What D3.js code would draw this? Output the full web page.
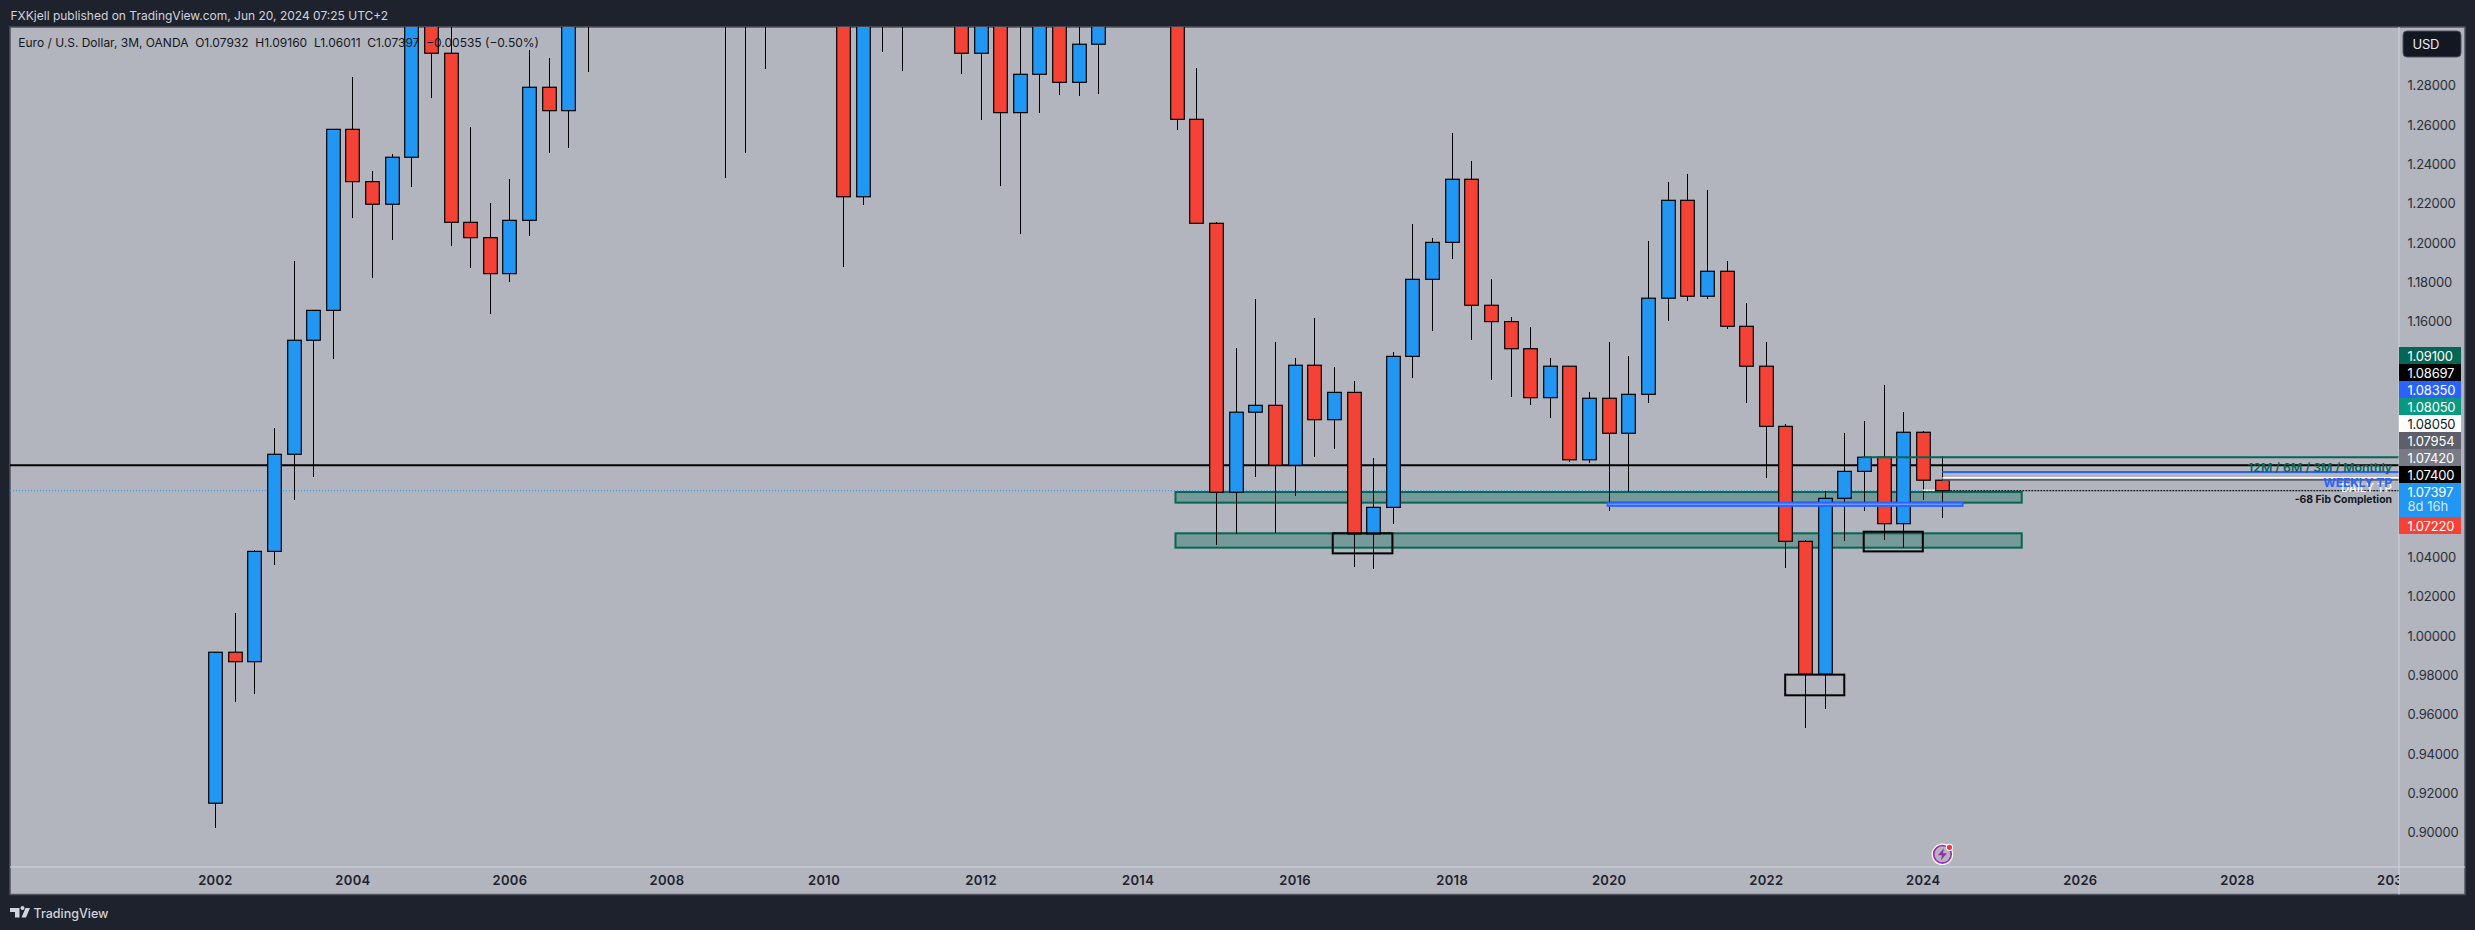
<!DOCTYPE html>
<html>
<head>
<meta charset="utf-8">
<script src="https://cdn.jsdelivr.net/npm/d3@7"></script>
<style>
html, body { margin: 0; padding: 0; background: #1e222d; overflow: hidden; }
text { font-family: Inter, "Noto Sans", sans-serif; }
</style>
</head>
<body>
<svg id="chart" width="2475" height="930"></svg>
<script>
// quarterly bars, Q2 2002 -> Q2 2024
var opens = [0.9150,0.9918,0.9870,1.0431,1.0925,1.1505,1.1657,1.2578,1.2312,1.2197,1.2436,1.3555,1.2965,1.2105,1.2027,1.1844,1.2115,1.2792,1.2673,1.3200,1.3355,1.3540,1.4240,1.4590,1.5790,1.5760,1.4090,1.3970,1.3250,1.4030,1.4640,1.4330,1.3510,1.2235,1.3635,1.3380,1.4158,1.4500,1.3390,1.2965,1.3340,1.2663,1.2858,1.3190,1.2817,1.3011,1.3525,1.3745,1.3770,1.3690,1.2629,1.2100,1.0732,1.1139,1.1174,1.0869,1.1378,1.1101,1.1240,1.0520,1.0655,1.1423,1.1815,1.2003,1.2324,1.1683,1.1600,1.1462,1.1213,1.1373,1.0897,1.1210,1.1032,1.1230,1.1719,1.2217,1.1729,1.1856,1.1576,1.1373,1.1067,1.0482,0.9806,1.0701,1.0838,1.0910,1.0572,1.1037,1.07932];
var highs = [0.9918,1.0118,1.0438,1.1057,1.1908,1.1660,1.2580,1.2844,1.2366,1.2453,1.3668,1.3480,1.3120,1.2590,1.2203,1.2325,1.2982,1.2941,1.3367,1.3370,1.3680,1.4280,1.4970,1.5910,1.6020,1.6040,1.4720,1.4000,1.4340,1.4840,1.5140,1.4580,1.3690,1.3787,1.4282,1.4248,1.4940,1.4700,1.4247,1.3486,1.3380,1.3172,1.3308,1.3711,1.3415,1.3569,1.3893,1.3967,1.3993,1.3700,1.2889,1.2107,1.1466,1.1715,1.1496,1.1413,1.1618,1.1369,1.1298,1.0906,1.1446,1.2096,1.2025,1.2559,1.2417,1.1815,1.1623,1.1572,1.1413,1.1376,1.1242,1.1496,1.1425,1.2010,1.2310,1.2351,1.2269,1.1908,1.1695,1.1496,1.1079,1.0490,1.0738,1.1033,1.1094,1.1277,1.1140,1.1044,1.09160];
var lows = [0.9024,0.9665,0.9706,1.0362,1.0692,1.0811,1.1410,1.2127,1.1823,1.2015,1.2285,1.2737,1.1985,1.1873,1.1639,1.1801,1.2035,1.2458,1.2483,1.2871,1.3260,1.3260,1.4060,1.4360,1.5290,1.3880,1.2330,1.2458,1.2885,1.3750,1.4200,1.3260,1.1879,1.2195,1.2973,1.2876,1.3969,1.3146,1.2860,1.2626,1.2290,1.2046,1.2663,1.2753,1.2748,1.2758,1.3295,1.3477,1.3503,1.2575,1.2098,1.0464,1.0521,1.0811,1.0525,1.0713,1.0913,1.0952,1.0352,1.0341,1.0570,1.1315,1.1554,1.1920,1.1508,1.1304,1.1218,1.1176,1.1111,1.0887,1.0882,1.0638,1.0732,1.1187,1.1605,1.1705,1.1716,1.1562,1.1187,1.0804,1.0346,0.9534,0.9631,1.0484,1.0638,1.0491,1.0450,1.0692,1.06011];
var closes = [0.9918,0.9870,1.0431,1.0925,1.1505,1.1657,1.2578,1.2312,1.2197,1.2436,1.3555,1.2965,1.2105,1.2027,1.1844,1.2115,1.2792,1.2673,1.3200,1.3355,1.3540,1.4240,1.4590,1.5790,1.5760,1.4090,1.3970,1.3250,1.4030,1.4640,1.4330,1.3510,1.2235,1.3635,1.3380,1.4158,1.4500,1.3390,1.2965,1.3340,1.2663,1.2858,1.3190,1.2817,1.3011,1.3525,1.3745,1.3770,1.3690,1.2629,1.2100,1.0732,1.1139,1.1174,1.0869,1.1378,1.1101,1.1240,1.0520,1.0655,1.1423,1.1815,1.2003,1.2324,1.1683,1.1600,1.1462,1.1213,1.1373,1.0897,1.1210,1.1032,1.1230,1.1719,1.2217,1.1729,1.1856,1.1576,1.1373,1.1067,1.0482,0.9806,1.0701,1.0838,1.0910,1.0572,1.1037,1.07932,1.07397];

var yearIndex = [0,7,15,23,31,39,47,55,63,71,79,87,95,103,111];
var yearLabels = ["2002","2004","2006","2008","2010","2012","2014","2016","2018","2020","2022","2024","2026","2028","2030"];
// 1.14 - 1.06 are hidden by the stacked price tags
var priceTicks = [1.28,1.26,1.24,1.22,1.20,1.18,1.16,1.04,1.02,1.00,0.98,0.96,0.94,0.92,0.90];

// price scale labels stacked on the right: value, colour, text colour
var tagValues = ["1.09100","1.08697","1.08350","1.08050","1.08050","1.07954","1.07420","1.07400","1.07397","1.07220"];
var tagColors = ["#056656","#000000","#2962ff","#089981","#ffffff","#5d606b","#787b86","#000000","#2196f3","#f44336"];
var tagText = ["#fff","#fff","#fff","#fff","#131722","#fff","#fff","#fff","#fff","#fff"];

var zonePrices = [[1.0733,1.0679],[1.0523,1.0450]];
var zoneBars = [48.93,92.04];
var boxPrices = [[1.0523,1.0421],[0.9804,0.9699],[1.0531,1.0431]];
var boxBars = [[56.94,59.98],[79.99,83],[83.99,87]];

var W = 2475, H = 930;
var left = 10, top_ = 27, axisX = 2399, axisY = 867, right = 2465, bottom = 894.5;

var x = d3.scaleLinear().domain([0, 87]).range([215, 1922.8]);
var y = d3.scaleLinear().domain([1.28, 0.90]).range([85.7, 832.7]);

var svg = d3.select("#chart");
var defs = svg.append("defs");
defs.append("clipPath").attr("id", "pane").append("rect")
    .attr("x", left).attr("y", top_).attr("width", axisX - left).attr("height", axisY - top_);
defs.append("clipPath").attr("id", "timeclip").append("rect")
    .attr("x", left).attr("y", axisY).attr("width", axisX - left).attr("height", bottom - axisY);

svg.append("rect").attr("x", left).attr("y", top_).attr("width", right - left).attr("height", bottom - top_)
    .attr("fill", "#b2b5be").attr("stroke", "#50535e").attr("stroke-width", 1.5);

var pane = svg.append("g").attr("clip-path", "url(#pane)");

// things that sit under the candles
pane.selectAll("rect.zone").data(zonePrices).enter().append("rect").attr("class", "zone")
    .attr("x", x(zoneBars[0]))
    .attr("width", x(zoneBars[1]) - x(zoneBars[0]))
    .attr("y", function(d) { return y(d[0]) })
    .attr("height", function(d) { return y(d[1]) - y(d[0]) })
    .attr("fill", "#056656").attr("fill-opacity", 0.35)
    .attr("stroke", "#056656").attr("stroke-width", 2);

pane.append("line").attr("x1", left).attr("x2", axisX)
    .attr("y1", y(1.08697)).attr("y2", y(1.08697))
    .attr("stroke", "#000").attr("stroke-width", 2);

pane.append("line").attr("x1", left).attr("x2", axisX)
    .attr("y1", y(1.07397)).attr("y2", y(1.07397))
    .attr("stroke", "#2196f3").attr("stroke-width", 1).attr("stroke-dasharray", "1 2");

// candles
var bars = d3.range(closes.length);
var bw = 13.6;
pane.selectAll("line.wick").data(bars).enter().append("line").attr("class", "wick")
    .attr("x1", function(i) { return Math.round(x(i)) + 0.5 })
    .attr("x2", function(i) { return Math.round(x(i)) + 0.5 })
    .attr("y1", function(i) { return y(highs[i]) })
    .attr("y2", function(i) { return y(lows[i]) })
    .attr("stroke", "#000").attr("stroke-width", 1)
    .attr("shape-rendering", "crispEdges");

pane.selectAll("rect.body").data(bars).enter().append("rect").attr("class", "body")
    .attr("x", function(i) { return Math.round(x(i)) + 0.5 - bw / 2 })
    .attr("width", bw)
    .attr("y", function(i) { return y(Math.max(opens[i], closes[i])) })
    .attr("height", function(i) { return Math.abs(y(opens[i]) - y(closes[i])) })
    .attr("fill", function(i) { return closes[i] >= opens[i] ? "#2196f3" : "#f44336" })
    .attr("stroke", "#000").attr("stroke-width", 1.2);

// drawings on top of the candles
pane.selectAll("rect.box").data(boxPrices).enter().append("rect").attr("class", "box")
    .attr("x", function(d, i) { return x(boxBars[i][0]) })
    .attr("width", function(d, i) { return x(boxBars[i][1]) - x(boxBars[i][0]) })
    .attr("y", function(d) { return y(d[0]) })
    .attr("height", function(d) { return y(d[1]) - y(d[0]) })
    .attr("fill", "none").attr("stroke", "#000").attr("stroke-width", 2);

pane.append("rect").attr("x", x(70.94)).attr("width", x(89.03) - x(70.94))
    .attr("y", y(1.0679)).attr("height", y(1.0662) - y(1.0679))
    .attr("fill", "#6f97ff").attr("stroke", "#2962ff").attr("stroke-width", 1.8);

var hLines = [
    {p: 1.0910, from: 83.9, c: "#056656"},
    {p: 1.0835, from: 88, c: "#2962ff"},
    {p: 1.0805, from: 88, c: "#ffffff"},
    {p: 1.07954, from: 88, c: "#5d606b"}
];
pane.selectAll("line.level").data(hLines).enter().append("line").attr("class", "level")
    .attr("x1", function(d) { return x(d.from) }).attr("x2", axisX)
    .attr("y1", function(d) { return y(d.p) }).attr("y2", function(d) { return y(d.p) })
    .attr("stroke", function(d) { return d.c }).attr("stroke-width", 2);

pane.append("line").attr("x1", x(87.02)).attr("x2", x(87.6))
    .attr("y1", y(1.0742)).attr("y2", y(1.0742))
    .attr("stroke", "#fff").attr("stroke-width", 1.5).attr("stroke-dasharray", "2 1");
pane.append("line").attr("x1", x(88.4)).attr("x2", axisX)
    .attr("y1", y(1.07397)).attr("y2", y(1.07397))
    .attr("stroke", "#000").attr("stroke-width", 1).attr("stroke-dasharray", "2 1");

// level captions
var captions = [
    {t: "12M / 6M / 3M / Monthly", p: 1.0857, c: "#056656", s: 12.3, f: 600},
    {t: "DAILY TP", p: 1.0751, c: "#ffffff", s: 11.5, f: 500},
    {t: "WEEKLY TP", p: 1.0782, c: "#2962ff", s: 12, f: 700},
    {t: "-68 Fib Completion", p: 1.0693, c: "#131722", s: 10.4, f: 700}
];
svg.selectAll("text.cap").data(captions).enter().append("text").attr("class", "cap")
    .attr("x", 2392).attr("y", function(d) { return y(d.p) })
    .attr("text-anchor", "end").attr("dominant-baseline", "central")
    .attr("fill", function(d) { return d.c })
    .attr("font-size", function(d) { return d.s })
    .attr("font-weight", function(d) { return d.f })
    .text(function(d) { return d.t });

// axes
svg.append("line").attr("x1", left).attr("x2", right).attr("y1", axisY).attr("y2", axisY)
    .attr("stroke", "#d1d4dc").attr("stroke-width", 1);
svg.append("line").attr("x1", axisX).attr("x2", axisX).attr("y1", top_).attr("y2", bottom)
    .attr("stroke", "#d1d4dc").attr("stroke-width", 1);

var yAxis = d3.axisRight(y).tickValues(priceTicks).tickSize(0).tickFormat(d3.format(".5f"));
var yg = svg.append("g").attr("transform", "translate(" + (axisX + 8.5) + ",0)").call(yAxis);
yg.select(".domain").remove();
yg.selectAll("text").attr("x", 0).attr("font-size", 13).attr("font-family", "Inter")
    .attr("letter-spacing", -0.2).attr("fill", "#2a2e39");

var xAxis = d3.axisBottom(x).tickValues(yearIndex).tickSize(0).tickFormat(function(d, i) { return yearLabels[i] });
var xg = svg.append("g").attr("clip-path", "url(#timeclip)").append("g").attr("transform", "translate(0," + (axisY + 8) + ")").call(xAxis);
xg.select(".domain").remove();
xg.selectAll("text").attr("y", 0).attr("dy", "0.8em").attr("font-size", 13).attr("font-weight", 600)
    .attr("font-family", "Inter").attr("letter-spacing", 0.3).attr("fill", "#1e222d");

// price tags
var tagH = 17, tagTop = 347;
var tags = svg.append("g");
var rowY = function(i) { return tagTop + i * tagH + (i > 8 ? tagH : 0) };
tags.selectAll("rect").data(tagValues).enter().append("rect")
    .attr("x", axisX).attr("width", 62)
    .attr("y", function(d, i) { return rowY(i) })
    .attr("height", function(d, i) { return i == 8 ? tagH * 2 : tagH })
    .attr("fill", function(d, i) { return tagColors[i] });
tags.selectAll("text").data(tagValues).enter().append("text")
    .attr("x", axisX + 8.5)
    .attr("y", function(d, i) { return rowY(i) + tagH / 2 })
    .attr("dominant-baseline", "central")
    .attr("font-size", 13).attr("letter-spacing", -0.2)
    .attr("fill", function(d, i) { return tagText[i] })
    .text(function(d) { return d });
svg.append("text").attr("x", axisX + 8.5).attr("y", 505.5).attr("dominant-baseline", "central")
    .attr("font-size", 13).attr("fill", "#d3e9fc").text("8d 16h");

// USD button
svg.append("rect").attr("x", 2403).attr("y", 31).attr("width", 58).attr("height", 26).attr("rx", 4)
    .attr("fill", "#131722").attr("stroke", "#50535e");
svg.append("text").attr("x", 2412.5).attr("y", 44).attr("dominant-baseline", "central")
    .attr("font-size", 13).attr("font-weight", 400).attr("letter-spacing", -0.2).attr("fill", "#e6e8ee").text("USD");

// header, legend, footer
svg.append("text").attr("x", 10.5).attr("y", 15.5).attr("dominant-baseline", "central")
    .attr("font-size", 12).attr("fill", "#d1d4dc")
    .text("FXKjell published on TradingView.com, Jun 20, 2024 07:25 UTC+2");
svg.append("text").attr("x", 18.3).attr("y", 42.7).attr("dominant-baseline", "central")
    .attr("font-size", 12).attr("fill", "#131722").attr("xml:space", "preserve")
    .text("Euro / U.S. Dollar, 3M, OANDA  O1.07932  H1.09160  L1.06011  C1.07397  \u22120.00535 (\u22120.50%)");

svg.append("path").attr("fill", "#d1d4dc")
    .attr("d", "M10 908h9.5v9.5h-4.5v-5.5h-5zM20.5 908a2 2 0 1 1 0 .01zM25.5 908h4.5l-4 9.5h-4.5z");
svg.append("text").attr("x", 33.5).attr("y", 913.5).attr("dominant-baseline", "central")
    .attr("font-size", 12.5).attr("font-weight", 500).attr("fill", "#d1d4dc").text("TradingView");

// bolt marker under the last bar
var bolt = svg.append("g").attr("transform", "translate(" + x(88) + ",854.3)");
bolt.append("circle").attr("r", 10.8).attr("fill", "#fff");
bolt.append("circle").attr("r", 8.8).attr("fill", "#b2b5be").attr("stroke", "#9c27b0").attr("stroke-width", 1.6);
bolt.append("path").attr("fill", "#9c27b0").attr("d", "M1.5 -6L-4.5 1H-0.5L-1.5 6L4.5 -1H0.5z");
bolt.append("circle").attr("cx", 7).attr("cy", -7).attr("r", 3.6).attr("fill", "#fff");
bolt.append("circle").attr("cx", 7).attr("cy", -7).attr("r", 2.6).attr("fill", "#f23645");
</script>
</body>
</html>
